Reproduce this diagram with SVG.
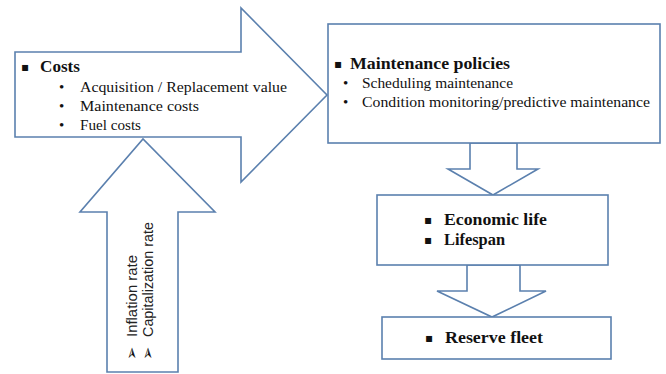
<svg xmlns="http://www.w3.org/2000/svg" width="666" height="374" viewBox="0 0 666 374">
<style>
.shape{fill:#ffffff;stroke:#5b80ae;stroke-width:1.6;stroke-linejoin:miter}
.t{font-family:"Liberation Serif","Times New Roman",serif;fill:#111111}
.b{font-weight:bold;font-size:17.5px}
.r{font-size:15px}
.s{font-family:"Liberation Sans",Arial,sans-serif;font-size:14px;fill:#222222}
.bul{font-family:"DejaVu Sans",sans-serif;fill:#111111}
</style>
<rect width="666" height="374" fill="#ffffff"/>
<g id="connectors">
  <polygon id="arrow-right" class="shape" points="15,52 241,52 241,8 327,95 241,182 241,137 15,137"/>
  <polygon id="arrow-up" class="shape" points="107,372 107,212 80,212 143,139 215,212 178,212 178,372"/>
  <polygon id="arrow-down-1" class="shape" points="470,143 517,143 517,169 538,169 493,195 448,169 470,169"/>
  <polygon id="arrow-down-2" class="shape" points="467,265 520,265 520,291 546,291 492,317 437,291 467,291"/>
</g>
<g id="costs">
  <text class="bul" x="21" y="71" font-size="12">▪</text>
  <text class="t b" x="40" y="72" textLength="40" lengthAdjust="spacingAndGlyphs">Costs</text>
  <text class="t r" x="59" y="92">•</text>
  <text class="t r" x="80" y="92" textLength="207" lengthAdjust="spacingAndGlyphs">Acquisition / Replacement value</text>
  <text class="t r" x="59" y="111">•</text>
  <text class="t r" x="80" y="111" textLength="119" lengthAdjust="spacingAndGlyphs">Maintenance costs</text>
  <text class="t r" x="59" y="130">•</text>
  <text class="t r" x="80" y="130" textLength="61" lengthAdjust="spacingAndGlyphs">Fuel costs</text>
</g>
<g id="rates">
  <text class="s" transform="translate(137,337) rotate(-90)" textLength="82" lengthAdjust="spacingAndGlyphs">Inflation rate</text>
  <text class="s" transform="translate(153,337) rotate(-90)" textLength="115" lengthAdjust="spacingAndGlyphs">Capitalization rate</text>
  <text class="bul" font-size="16" font-weight="bold" transform="translate(137,360) rotate(-90)">➢</text>
  <text class="bul" font-size="16" font-weight="bold" transform="translate(153,360) rotate(-90)">➢</text>
</g>
<g id="maintenance">
  <rect class="shape" x="328" y="24" width="332" height="119"/>
  <text class="bul" x="334" y="68" font-size="12">▪</text>
  <text class="t b" x="350" y="69" textLength="160" lengthAdjust="spacingAndGlyphs">Maintenance policies</text>
  <text class="t r" x="343" y="88">•</text>
  <text class="t r" x="362" y="88" textLength="151" lengthAdjust="spacingAndGlyphs">Scheduling maintenance</text>
  <text class="t r" x="343" y="107">•</text>
  <text class="t r" x="362" y="107" textLength="288" lengthAdjust="spacingAndGlyphs">Condition monitoring/predictive maintenance</text>
</g>
<g id="economic">
  <rect class="shape" x="377" y="195" width="231" height="70"/>
  <text class="bul" x="424" y="224" font-size="12">▪</text>
  <text class="t b" x="444" y="225" textLength="103" lengthAdjust="spacingAndGlyphs">Economic life</text>
  <text class="bul" x="424" y="244" font-size="12">▪</text>
  <text class="t b" x="444" y="245" textLength="61" lengthAdjust="spacingAndGlyphs">Lifespan</text>
</g>
<g id="reserve">
  <rect class="shape" x="382" y="317" width="229" height="42"/>
  <text class="bul" x="425" y="342" font-size="12">▪</text>
  <text class="t b" x="445" y="343" textLength="98" lengthAdjust="spacingAndGlyphs">Reserve fleet</text>
</g>
</svg>
